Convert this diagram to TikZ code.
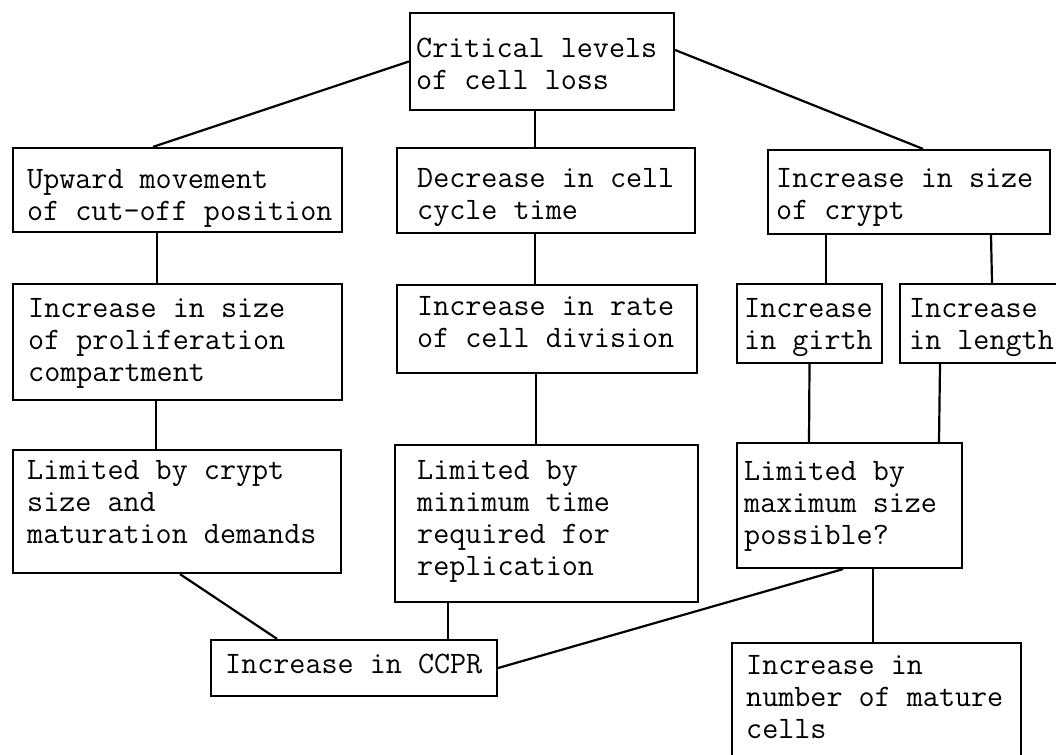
\documentclass[tikz,border=0pt]{standalone}
\usepackage{fontspec}
\usetikzlibrary{fit}
\tikzset{
  box/.style={draw, line width=2.2pt, inner sep=0pt, rectangle},
  txt/.style={anchor=north west, inner sep=0pt, align=left, font=\ttfamily\addfontfeatures{FakeBold=2.5}\fontsize{31.2}{32}\selectfont},
  conn/.style={line width=2.2pt}
}
\begin{document}
\begin{tikzpicture}[x=1pt,y=-1pt]
\useasboundingbox (0,0) rectangle (1056,754);
\clip (0,0) rectangle (1056,754);
% boxes
\node[box, fit={(410,13) (674,110)}] (top) {};
\node[box, fit={(13,148) (342,232)}] (upward) {};
\node[box, fit={(13,284) (342,400)}] (prolif) {};
\node[box, fit={(13,450) (341,573)}] (limcrypt) {};
\node[box, fit={(397,148) (695,233)}] (decrease) {};
\node[box, fit={(397,285) (697,373)}] (rate) {};
\node[box, fit={(395,445) (698,602)}] (minimum) {};
\node[box, fit={(768,150) (1050,234)}] (crypt) {};
\node[box, fit={(737,284) (882,363)}] (girth) {};
\node[box, fit={(900,284) (1062,363)}] (length) {};
\node[box, fit={(737,443) (962,568)}] (max) {};
\node[box, fit={(211,640) (497,696)}] (ccpr) {};
\node[box, fit={(732,643) (1021,800)}] (number) {};
% texts
\node[txt] (ttop) at (416,34.6) {\strut Critical levels\\of cell loss};
\node[txt] (tupward) at (27,165.6) {\strut Upward movement\\of cut-off position};
\node[txt] (tprolif) at (28,294.6) {\strut Increase in size\\of proliferation\\compartment};
\node[txt] (tlimcrypt) at (27,456.6) {\strut Limited by crypt\\size and\\maturation demands};
\node[txt] (tdecrease) at (417,164.6) {\strut Decrease in cell\\cycle time};
\node[txt] (trate) at (417,292.6) {\strut Increase in rate\\of cell division};
\node[txt] (tminimum) at (417,456.6) {\strut Limited by\\minimum time\\required for\\replication};
\node[txt] (tcrypt) at (776,164.6) {\strut Increase in size\\of crypt};
\node[txt] (tgirth) at (744,294.6) {\strut Increase\\in girth};
\node[txt] (tlength) at (909,294.6) {\strut Increase\\in length};
\node[txt] (tmax) at (744,457.6) {\strut Limited by\\maximum size\\possible?};
\node[txt] (tccpr) at (225,650.6) {\strut Increase in CCPR};
\node[txt] (tnumber) at (746,651.6) {\strut Increase in\\number of mature\\cells};
% connectors
\draw[conn] (top.west) -- ([xshift=-24.5pt]upward.north);
\draw[conn] ([yshift=11.5pt]top.east) -- ([xshift=14pt]crypt.north);
\draw[conn] ([xshift=-7pt]top.south) -- ([xshift=-11pt]decrease.north);
\draw[conn] ([xshift=-20.5pt]upward.south) -- ([xshift=-20.5pt]prolif.north);
\draw[conn] ([xshift=-21.5pt]prolif.south) -- ([xshift=-21pt]limcrypt.north);
\draw[conn] ([xshift=3pt]limcrypt.south) -- ([xshift=-77pt]ccpr.north);
\draw[conn] ([xshift=-11pt]decrease.south) -- ([xshift=-12pt]rate.north);
\draw[conn] ([xshift=-11pt]rate.south) -- ([xshift=-10.5pt]minimum.north);
\draw[conn] ([xshift=-98.5pt]minimum.south) -- ([xshift=94pt]ccpr.north);
\draw[conn] ([xshift=-83pt]crypt.south) -- ([xshift=16.5pt]girth.north);
\draw[conn] ([xshift=82pt]crypt.south) -- ([xshift=11pt]length.north);
\draw[conn] (girth.south) -- ([xshift=-40.5pt]max.north);
\draw[conn] ([xshift=-41pt]length.south) -- ([xshift=89.5pt]max.north);
\draw[conn] ([xshift=-6.5pt]max.south) -- (ccpr.east);
\draw[conn] ([xshift=23.5pt]max.south) -- ([xshift=-3.5pt]number.north);
\end{tikzpicture}
\end{document}
